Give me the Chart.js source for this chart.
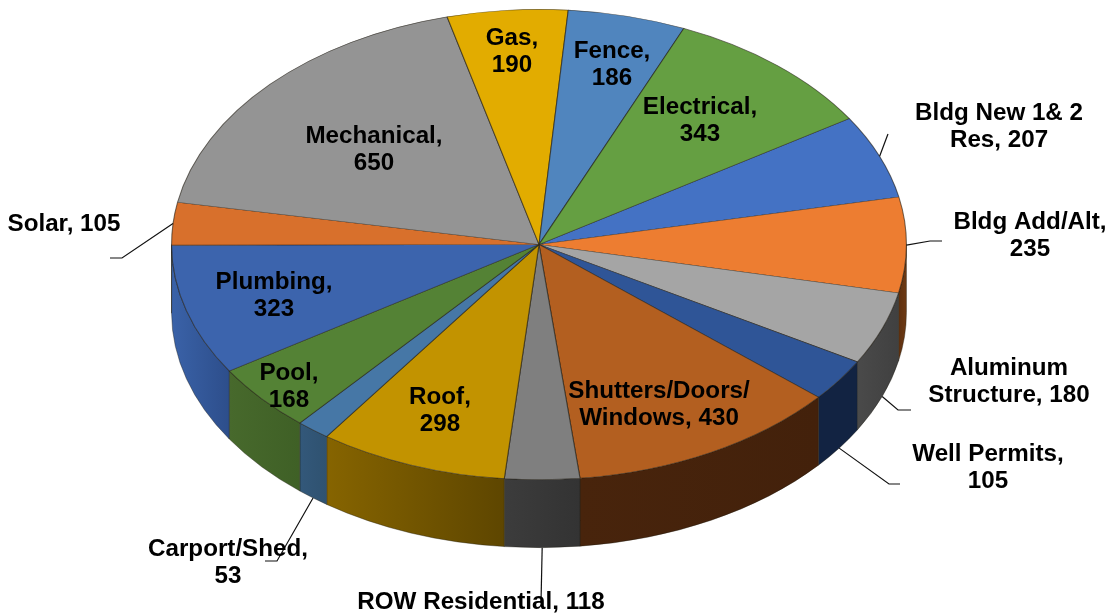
<!DOCTYPE html>
<html><head><meta charset="utf-8">
<style>html,body{margin:0;padding:0;background:#fff}canvas{display:block}</style>
<script src="https://cdn.jsdelivr.net/npm/chart.js@4"></script>
</head><body><canvas id="c" width="1109" height="615"></canvas>
<script>
const categories = ["Bldg New 1& 2 Res","Bldg Add/Alt","Aluminum Structure","Well Permits","Shutters/Doors/ Windows","ROW Residential","Roof","Carport/Shed","Pool","Plumbing","Solar","Mechanical","Gas","Fence","Electrical"];
const values = [207,235,180,105,430,118,298,53,168,323,105,650,190,186,343];
const topColors = ["#4472C4","#ED7D31","#A5A5A5","#2F5597","#B35F20","#7F7F7F","#C29300","#4677A6","#548235","#3C64AD","#D8702C","#949494","#E2AC00","#5085BE","#659F42"];
const wallLeft = ["#2a4a85","#5e3010","#4a4a4a","#122342","#48240c","#3c3c3c","#866400","#33587a","#47692c","#3a62a8","#8a4a1c","#555555","#8a6a00","#2f5474","#426a2a"];
const wallRight = ["#2a4a85","#6e3a14","#404040","#122342","#43210b","#333333","#5e4600","#2f5270","#3f6026","#2d4e8b","#8a4a1c","#555555","#8a6a00","#2f5474","#426a2a"];
// words on the first line of each data label
const firstLineWords = [4,2,1,2,1,3,1,1,1,1,2,1,1,1,1];
// label centres (annotation layout)
const labelSpots = [[999,113],[1030,222],[1009,368],[988,454],[659,391],[481,602],[440,397],[228,549],[289,373],[274,282],[64,224],[374,136],[512,38],[612,51],[700,107]];
// leader elbows: index -> [wall?, elbow..., end...]
const leaders = {0:[false,[888,134]],1:[false,[930,241],[942,241]],2:[true,[898,410],[911,410]],3:[true,[889,484],[900,484]],5:[true,[541,603]],7:[true,[277,561],[265,561]],10:[false,[122,258],[110,258]]};

const CX=539, CY=244.5, R=235.5, XS=368/235.5, DEPTH=68;
const pieShape = {
  id:'pieShape',
  beforeDatasetsDraw(chart){
    const ctx=chart.ctx, arcs=chart.getDatasetMeta(0).data;
    const cx=arcs[0].x, cy=arcs[0].y, ry=arcs[0].outerRadius, rx=ry*XS;
    ctx.save();
    arcs.forEach((a,i)=>{
      const s=Math.max(a.startAngle,0), e=Math.min(a.endAngle,Math.PI);
      if(e<=s) return;
      const g=ctx.createLinearGradient(cx+rx*Math.cos(s),0,cx+rx*Math.cos(e),0);
      g.addColorStop(0,wallRight[i]); g.addColorStop(1,wallLeft[i]);
      ctx.beginPath();
      ctx.ellipse(cx,cy,rx,ry,0,s,e);
      ctx.ellipse(cx,cy+DEPTH,rx,ry,0,e,s,true);
      ctx.closePath();
      ctx.fillStyle=g; ctx.fill();
      ctx.strokeStyle='rgba(30,25,15,.55)'; ctx.lineWidth=.7; ctx.stroke();
    });
    ctx.restore();
    ctx.save();
    ctx.translate(cx,cy); ctx.scale(XS,1); ctx.translate(-cx,-cy);
  },
  afterDatasetsDraw(chart){
    const ctx=chart.ctx, arcs=chart.getDatasetMeta(0).data;
    ctx.restore();
    const cx=arcs[0].x, cy=arcs[0].y, ry=arcs[0].outerRadius, rx=ry*XS;
    ctx.save();
    ctx.strokeStyle='#111'; ctx.lineWidth=1.2;
    Object.keys(leaders).forEach(k=>{
      const a=arcs[k], m=(a.startAngle+a.endAngle)/2, L=leaders[k];
      ctx.beginPath();
      ctx.moveTo(cx+rx*Math.cos(m), cy+ry*Math.sin(m)+(L[0]?DEPTH:0));
      L.slice(1).forEach(p=>ctx.lineTo(p[0],p[1]));
      ctx.stroke();
    });
    ctx.fillStyle='#000'; ctx.font='bold 24.2px "Liberation Sans",Arial,sans-serif';
    ctx.textAlign='center'; ctx.textBaseline='middle';
    categories.forEach((c,i)=>{
      const w=(c+', '+values[i]).split(' '), n=firstLineWords[i];
      const l1=w.slice(0,n).join(' '), l2=w.slice(n).join(' ');
      ctx.fillText(l1,labelSpots[i][0],labelSpots[i][1]);
      if(l2) ctx.fillText(l2,labelSpots[i][0],labelSpots[i][1]+27.5);
    });
    ctx.restore();
  }
};
new Chart(document.getElementById('c'),{
  type:'pie',
  data:{labels:categories,datasets:[{data:values,backgroundColor:topColors,borderColor:'rgba(30,25,15,.6)',borderWidth:.7,clip:false}]},
  options:{responsive:false,animation:false,rotation:57.6,
    layout:{padding:{left:CX-R,right:1109-CX-R,top:CY-R,bottom:615-CY-R}},
    plugins:{legend:{display:false},tooltip:{enabled:false}}},
  plugins:[pieShape]
});
</script></body></html>
